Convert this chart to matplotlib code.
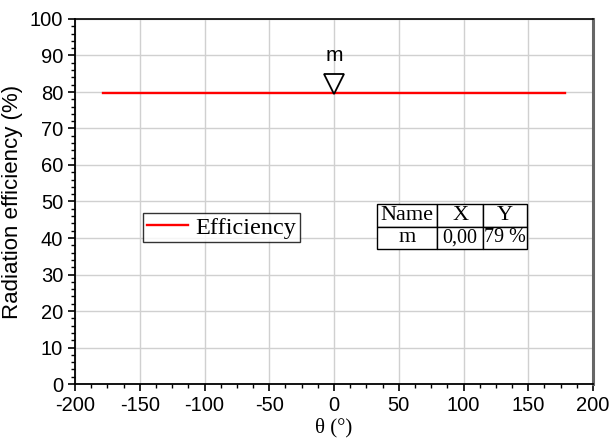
import matplotlib
matplotlib.use("Agg")
import matplotlib.pyplot as plt
from matplotlib.ticker import MultipleLocator
import matplotlib.transforms as mtransforms

plt.rcParams["axes.unicode_minus"] = False

# ---- data ----
theta = [-178, 178]
efficiency = [79.6, 79.6]
marker_name = "m"
marker_x = 0.0
marker_y = 79.6
table_header = ["Name", "X", "Y"]
table_row = ["m", "0,00", "79 %"]
xticks = [-200, -150, -100, -50, 0, 50, 100, 150, 200]
yticks = [0, 10, 20, 30, 40, 50, 60, 70, 80, 90, 100]

W, H = 609, 444
fig = plt.figure(figsize=(W / 100, H / 100), dpi=100)
L, R, B, T = 75, 593, 384, 19
ax = fig.add_axes([L / W, 1 - B / H, (R - L) / W, (B - T) / H])

sans = "Liberation Sans"
serif = "Liberation Serif"

ax.plot(theta, efficiency, color="#ff0000", lw=1.7, label="Efficiency", zorder=3)

# marker: open down-triangle with tip on the line
ms = 14
off = mtransforms.offset_copy(ax.transData, fig=fig, x=0, y=ms / 2, units="points")
ax.plot([marker_x], [marker_y], marker="v", ms=ms, mfc="white", mec="black",
        mew=1.3, transform=off, zorder=4, clip_on=False)
off2 = mtransforms.offset_copy(ax.transData, fig=fig, x=0, y=ms + 6.5, units="points")
ax.text(marker_x, marker_y, marker_name, transform=off2, ha="center", va="bottom",
        fontsize=15, family=sans)

ax.set_xlim(-200, 200)
ax.set_ylim(0, 100)
ax.set_xticks(xticks)
ax.set_yticks(yticks)
ax.xaxis.set_minor_locator(MultipleLocator(12.5))
ax.yaxis.set_minor_locator(MultipleLocator(2))
ax.tick_params(which="major", direction="out", length=5, width=1.2, labelsize=14.5)
ax.tick_params(which="minor", direction="out", length=3, width=1.0)
for lab in ax.get_xticklabels() + ax.get_yticklabels():
    lab.set_family(sans)
ax.tick_params(axis="x", which="both", top=False)
ax.tick_params(axis="y", which="both", right=False)

ax.grid(True, which="major", color="#d0d0d0", lw=1.0, zorder=0)
ax.set_axisbelow(True)

for s in ["left", "bottom"]:
    ax.spines[s].set_color("black")
    ax.spines[s].set_linewidth(1.3)
ax.spines["top"].set_color("black")
ax.spines["top"].set_linewidth(1.2)
ax.spines["right"].set_color("#666666")
ax.spines["right"].set_linewidth(2.2)

ax.set_xlabel("θ (°)", fontsize=15, family=serif, labelpad=2)
ax.set_ylabel("Radiation efficiency (%)", fontsize=16, family=sans, labelpad=5)

leg = ax.legend(loc="upper left", bbox_to_anchor=((143 - L) / (R - L), (B - 213) / (B - T)),
                borderaxespad=0, frameon=True, fancybox=False, shadow=False,
                prop={"family": serif, "size": 17.5}, handlelength=1.7,
                handletextpad=0.3, borderpad=0.15)
leg.get_frame().set_edgecolor("black")
leg.get_frame().set_linewidth(1.0)

# table
tx0, tx1, ty0, ty1 = 377, 527, 204, 249
bbox = [(tx0 - L) / (R - L), (B - ty1) / (B - T), (tx1 - tx0) / (R - L), (ty1 - ty0) / (B - T)]
tbl = ax.table(cellText=[table_row], colLabels=table_header, cellLoc="center",
               colWidths=[0.40, 0.31, 0.29], bbox=bbox, zorder=5)
tbl.auto_set_font_size(False)
for (r, c), cell in tbl.get_celld().items():
    cell.set_edgecolor("black")
    cell.set_linewidth(1.0)
    cell.set_facecolor("white")
    cell.get_text().set_family(serif)
    cell.get_text().set_fontsize(16 if r == 0 else (16 if c == 0 else 14.5))
    cell.PAD = 0.02

fig.savefig("out.png", dpi=100)
